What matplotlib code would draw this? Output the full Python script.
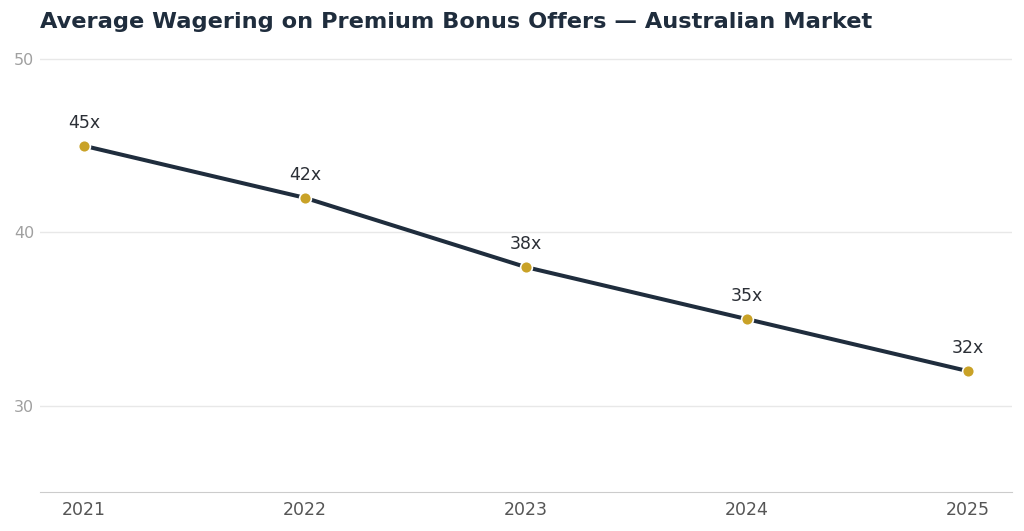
import matplotlib.pyplot as plt

plt.rcParams["font.family"] = ["DejaVu Sans"]

# data
years = [2021, 2022, 2023, 2024, 2025]
wagering = [45, 42, 38, 35, 32]
labels = ["45x", "42x", "38x", "35x", "32x"]

fig = plt.figure(figsize=(10.24, 5.31), dpi=100)
ax = fig.add_axes([0.039, 0.073, 0.949, 0.848])

ax.plot(years, wagering, color="#1f2d3d", lw=2.9, zorder=3,
        marker="o", markersize=8.5, markerfacecolor="#c9a227",
        markeredgecolor="white", markeredgewidth=1.2)

for x, y, t in zip(years, wagering, labels):
    ax.annotate(t, (x, y), xytext=(0, 10), textcoords="offset points",
                ha="center", va="bottom", fontsize=12.5, color="#2b2f36")

ax.set_xlim(2020.8, 2025.2)
ax.set_ylim(25, 51)
ax.set_xticks(years)
ax.set_yticks([30, 40, 50])
ax.grid(axis="y", color="#e8e8e8", lw=1)
ax.set_axisbelow(True)
for s in ["top", "right", "left"]:
    ax.spines[s].set_visible(False)
ax.spines["bottom"].set_color("#cccccc")
ax.tick_params(axis="x", length=0, labelsize=12.5, labelcolor="#555555", pad=6)
ax.tick_params(axis="y", length=0, labelsize=11.5, labelcolor="#a0a0a0", pad=4)

fig.text(0.039, 0.958, "Average Wagering on Premium Bonus Offers \u2014 Australian Market",
         fontsize=16.2, fontweight="bold", color="#1f2d3d", ha="left", va="center")

fig.savefig("out.png", dpi=100)
